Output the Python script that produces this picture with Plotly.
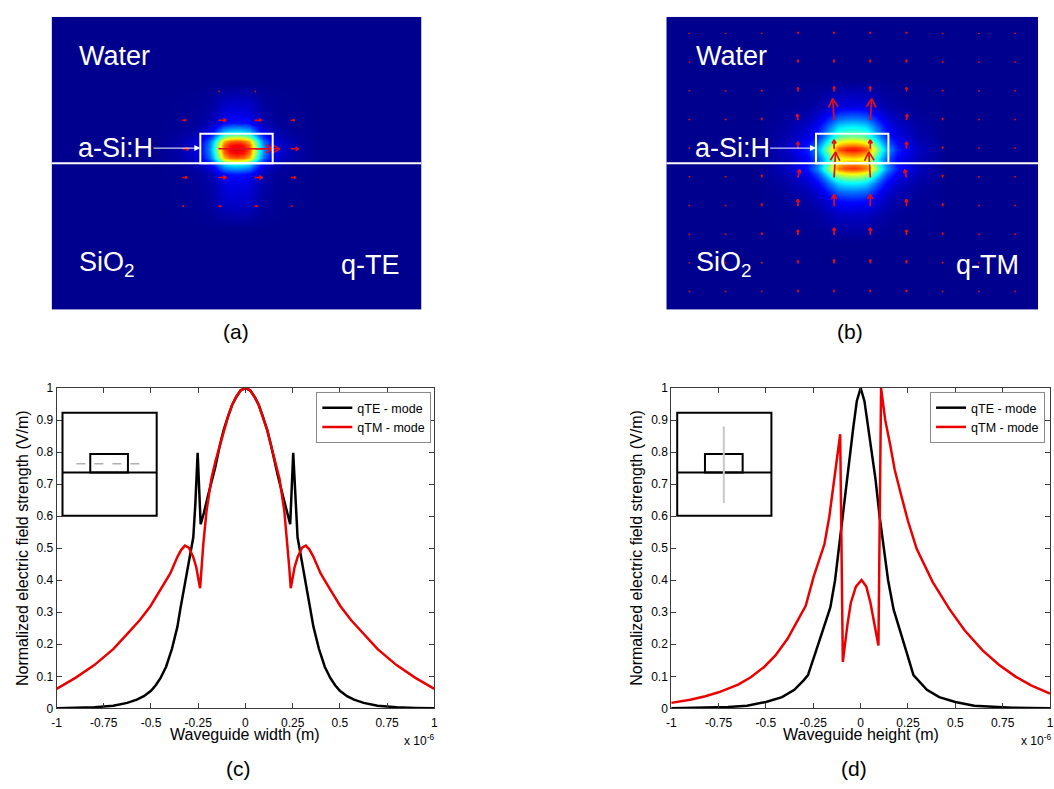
import numpy as np
import plotly.graph_objects as go

W, H = 1054, 789
FONT = "Arial, Liberation Sans, sans-serif"

# ---------------------------------------------------------------- data
# (c) normalized |E| along the waveguide width (x in units of 1e-6 m)
c_te_x = [-1.0, -0.9, -0.8, -0.7, -0.626, -0.575, -0.538, -0.5, -0.475, -0.45, -0.42, -0.389, -0.36,
          -0.345, -0.328, -0.311, -0.293, -0.276, -0.265, -0.253, -0.237, -0.22, -0.2, -0.171, -0.16,
          -0.136, -0.115, -0.092, -0.07, -0.048, -0.025, 0.0, 0.025, 0.048, 0.07, 0.092, 0.115, 0.136,
          0.16, 0.171, 0.2, 0.22, 0.237, 0.253, 0.265, 0.276, 0.293, 0.311, 0.328, 0.345, 0.36, 0.389,
          0.42, 0.45, 0.475, 0.5, 0.538, 0.575, 0.626, 0.7, 0.8, 0.9, 1.0]
c_te_y = [0.0, 0.001, 0.003, 0.008, 0.017, 0.027, 0.038, 0.055, 0.072, 0.094, 0.13, 0.186, 0.255,
          0.309, 0.365, 0.42, 0.478, 0.534, 0.64, 0.798, 0.575, 0.61, 0.66, 0.728, 0.752,
          0.82, 0.87, 0.912, 0.948, 0.973, 0.993, 1.0, 0.993, 0.973, 0.948, 0.912, 0.87, 0.82,
          0.752, 0.728, 0.66, 0.61, 0.575, 0.798, 0.64, 0.534, 0.478, 0.42, 0.365, 0.309, 0.255, 0.186,
          0.13, 0.094, 0.072, 0.055, 0.038, 0.027, 0.017, 0.008, 0.003, 0.001, 0.0]
c_tm_x = [-1.0, -0.9, -0.8, -0.7, -0.634, -0.56, -0.503, -0.45, -0.398, -0.36, -0.34, -0.32, -0.3,
          -0.276, -0.26, -0.248, -0.24, -0.232, -0.223, -0.206, -0.18, -0.158, -0.136, -0.115, -0.092,
          -0.07, -0.048, -0.025, 0.0, 0.025, 0.048, 0.07, 0.092, 0.115, 0.136, 0.158, 0.18, 0.206,
          0.223, 0.232, 0.24, 0.248, 0.26, 0.276, 0.3, 0.32, 0.34, 0.36, 0.398, 0.45, 0.503, 0.56,
          0.634, 0.7, 0.8, 0.9, 1.0]
c_tm_y = [0.061, 0.095, 0.135, 0.185, 0.227, 0.275, 0.319, 0.37, 0.421, 0.473, 0.495, 0.508, 0.502,
          0.472, 0.44, 0.40, 0.375, 0.44, 0.513, 0.616, 0.718, 0.773, 0.82, 0.87, 0.912,
          0.948, 0.973, 0.993, 1.0, 0.993, 0.973, 0.948, 0.912, 0.87, 0.82, 0.773, 0.718, 0.616,
          0.513, 0.44, 0.375, 0.40, 0.44, 0.472, 0.502, 0.508, 0.495, 0.473, 0.421, 0.37, 0.319, 0.275,
          0.227, 0.185, 0.135, 0.095, 0.061]

# (d) normalized |E| along the waveguide height (x in units of 1e-6 m)
d_te_x = [-1.0, -0.9, -0.8, -0.7, -0.6, -0.5, -0.415, -0.35, -0.3, -0.278, -0.235, -0.2, -0.16,
          -0.135, -0.113, -0.09, -0.073, -0.055, -0.04, -0.02, 0.0, 0.02, 0.04, 0.058, 0.078, 0.1,
          0.122, 0.145, 0.174, 0.21, 0.24, 0.279, 0.3, 0.35, 0.415, 0.5, 0.6, 0.7, 0.8, 0.9, 1.0]
d_te_y = [0.0, 0.001, 0.002, 0.004, 0.008, 0.02, 0.035, 0.058, 0.088, 0.104, 0.18, 0.245, 0.315,
          0.40, 0.51, 0.63, 0.718, 0.80, 0.871, 0.96, 1.0, 0.96, 0.871, 0.80, 0.718, 0.60,
          0.51, 0.40, 0.309, 0.235, 0.18, 0.104, 0.09, 0.058, 0.035, 0.02, 0.008, 0.004, 0.002, 0.001, 0.0]
d_tm_x = [-1.0, -0.9, -0.82, -0.75, -0.647, -0.58, -0.508, -0.45, -0.386, -0.34, -0.29, -0.248,
          -0.22, -0.191, -0.165, -0.139, -0.12, -0.108, -0.094, -0.082, -0.07, -0.052, -0.025, 0.005,
          0.03, 0.052, 0.075, 0.094, 0.108, 0.13, 0.157, 0.18, 0.209, 0.25, 0.296, 0.38, 0.47, 0.55,
          0.644, 0.73, 0.818, 0.9, 1.0]
d_tm_y = [0.017, 0.027, 0.038, 0.05, 0.074, 0.097, 0.13, 0.165, 0.217, 0.265, 0.32, 0.411,
          0.46, 0.513, 0.6, 0.718, 0.8, 0.856, 0.145, 0.21, 0.26, 0.329, 0.38, 0.401,
          0.38, 0.329, 0.26, 0.196, 1.0, 0.9, 0.82, 0.745, 0.677, 0.585, 0.498, 0.395, 0.309, 0.243,
          0.181, 0.136, 0.099, 0.072, 0.046]

x_ticks = [-1, -0.75, -0.5, -0.25, 0, 0.25, 0.5, 0.75, 1]
x_tick_text = ["-1", "-0.75", "-0.5", "-0.25", "0", "0.25", "0.5", "0.75", "1"]
y_ticks = [0, 0.1, 0.2, 0.3, 0.4, 0.5, 0.6, 0.7, 0.8, 0.9, 1]
y_tick_text = ["0", "0.1", "0.2", "0.3", "0.4", "0.5", "0.6", "0.7", "0.8", "0.9", "1"]

# mode maps (µm): horizontal and vertical intensity profiles
a_map_x = [-1.3, -0.55, -0.4, -0.3, -0.24, -0.188, -0.157, -0.137, -0.113, -0.09, -0.05, 0.0,
           0.05, 0.09, 0.113, 0.137, 0.157, 0.188, 0.24, 0.3, 0.4, 0.55, 1.3]
a_map_xv = [0, 0, 0.03, 0.07, 0.14, 0.26, 0.375, 0.5, 0.65, 0.79, 0.88, 0.91,
            0.88, 0.79, 0.65, 0.5, 0.375, 0.26, 0.14, 0.07, 0.03, 0, 0]
a_map_y = [-1.05, -0.45, -0.28, -0.14, -0.075, -0.04, -0.007, 0.015, 0.039, 0.07, 0.096, 0.125,
           0.153, 0.18, 0.21, 0.25, 0.28, 0.34, 0.42, 0.55, 1.05]
a_map_yv = [0, 0, 0.07, 0.11, 0.16, 0.29, 0.42, 0.67, 0.87, 0.97, 1.0, 0.97,
            0.87, 0.67, 0.42, 0.29, 0.16, 0.11, 0.07, 0, 0]

b_map_x = [-1.3, -0.65, -0.45, -0.31, -0.24, -0.205, -0.15, -0.097, -0.05, 0.0, 0.05, 0.097,
           0.15, 0.205, 0.24, 0.31, 0.45, 0.65, 1.3]
b_map_xv = [0, 0, 0.07, 0.18, 0.32, 0.44, 0.68, 0.92, 0.98, 1.0, 0.98, 0.92,
            0.68, 0.44, 0.32, 0.18, 0.07, 0, 0]
b_map_y = [-1.05, -0.55, -0.36, -0.26, -0.19, -0.14, -0.1, -0.075, -0.045, -0.03, -0.012,
           0.0, 0.027, 0.05, 0.091, 0.11, 0.13, 0.153, 0.187, 0.255, 0.31, 0.4, 0.58, 1.05]
b_map_yv = [0, 0, 0.06, 0.14, 0.25, 0.375, 0.5, 0.62, 0.78, 0.82, 0.76,
            0.7, 0.64, 0.72, 0.86, 0.84, 0.74, 0.625, 0.5, 0.375, 0.25, 0.09, 0, 0]

# core geometry (µm)
core_w = 0.5
core_h = 0.205

# quiver grid (µm) and arrow components (µm)
q_cols = [-1.125, -0.875, -0.625, -0.375, -0.125, 0.125, 0.375, 0.625, 0.875, 1.125]
q_rows = [0.9, 0.7, 0.5, 0.3, 0.1, -0.1, -0.3, -0.5, -0.7, -0.9]
a_q_u = [
    [0, 0, 0, 0, 0, 0, 0, 0, 0, 0],
    [0, 0, 0, 0, 0, 0, 0, 0, 0, 0],
    [0, 0, 0, 0, 0.007, 0.007, 0, 0, 0, 0],
    [0, 0, 0, 0.027, 0.055, 0.048, 0.027, 0, 0, 0],
    [0, 0, 0, 0.048, 0.425, 0.13, 0.055, 0, 0, 0],
    [0, 0, 0, 0.034, 0.055, 0.055, 0.034, 0, 0, 0],
    [0, 0, 0, 0.01, 0.02, 0.02, 0.01, 0, 0, 0],
    [0, 0, 0, 0, 0, 0, 0, 0, 0, 0],
    [0, 0, 0, 0, 0, 0, 0, 0, 0, 0],
    [0, 0, 0, 0, 0, 0, 0, 0, 0, 0],
]
b_q_u = [
    [0, 0, 0, 0, 0, 0, 0, 0, 0, 0],
    [0, 0, 0, 0, 0, 0, 0, 0, 0, 0],
    [0, 0, 0, 0, 0, 0, 0, 0, 0, 0],
    [0, 0, 0, -0.005, -0.01, 0.01, 0.005, 0, 0, 0],
    [0, 0, 0, 0, 0, 0, 0, 0, 0, 0],
    [0, 0, 0, 0.012, 0.01, -0.01, -0.012, 0, 0, 0],
    [0, 0, 0, 0, 0, 0, 0, 0, 0, 0],
    [0, 0, 0, 0, 0, 0, 0, 0, 0, 0],
    [0, 0, 0, 0, 0, 0, 0, 0, 0, 0],
    [0, 0, 0, 0, 0, 0, 0, 0, 0, 0],
]
b_q_v = [
    [0.007, 0.007, 0.007, 0.014, 0.014, 0.014, 0.014, 0.007, 0.007, 0.007],
    [0.007, 0.007, 0.01, 0.02, 0.02, 0.02, 0.02, 0.01, 0.007, 0.007],
    [0.007, 0.007, 0.01, 0.027, 0.034, 0.034, 0.027, 0.01, 0.007, 0.007],
    [0.007, 0.007, 0.014, 0.041, 0.15, 0.15, 0.041, 0.014, 0.007, 0.007],
    [0.007, 0.007, 0.014, 0.048, 0.062, 0.062, 0.048, 0.014, 0.007, 0.007],
    [0.007, 0.007, 0.017, 0.055, 0.178, 0.178, 0.055, 0.017, 0.007, 0.007],
    [0.007, 0.007, 0.017, 0.048, 0.082, 0.082, 0.048, 0.017, 0.007, 0.007],
    [0.007, 0.007, 0.014, 0.034, 0.048, 0.048, 0.034, 0.014, 0.007, 0.007],
    [0.007, 0.007, 0.01, 0.02, 0.027, 0.027, 0.02, 0.01, 0.007, 0.007],
    [0.007, 0.007, 0.007, 0.014, 0.014, 0.014, 0.014, 0.007, 0.007, 0.007],
]

# ---------------------------------------------------------------- helpers
JET = [[0.0, "rgb(0,0,143)"], [0.125, "rgb(0,0,255)"], [0.375, "rgb(0,255,255)"],
       [0.625, "rgb(255,255,0)"], [0.875, "rgb(255,0,0)"], [1.0, "rgb(128,0,0)"]]


def px(X):
    return X / W


def py(Y):
    return 1 - Y / H


def quiver(cols, rows, U, V, head=0.06):
    xs, ys = [], []
    for i, y0 in enumerate(rows):
        for j, x0 in enumerate(cols):
            u = U[i][j] if U is not None else 0.0
            v = V[i][j] if V is not None else 0.0
            L = float(np.hypot(u, v))
            if L == 0:
                continue
            dx, dy = u / L, v / L
            nx, ny = -dy, dx
            tx, ty = x0 + u, y0 + v
            hl = min(0.4 * L, head)
            hw = 0.55 * hl
            bx, by = tx - hl * dx, ty - hl * dy
            xs += [x0, tx, None, bx + hw * nx, tx, bx - hw * nx, None]
            ys += [y0, ty, None, by + hw * ny, ty, by - hw * ny, None]
    return xs, ys


fig = go.Figure()

# ---------------------------------------------------------------- (a) & (b) maps
za = np.outer(a_map_yv, a_map_xv)
zb = np.outer(b_map_yv, b_map_xv)
fig.add_trace(go.Heatmap(x=a_map_x, y=a_map_y, z=za, colorscale=JET, zmin=0, zmax=1,
                         zsmooth="best", showscale=False, hoverinfo="skip",
                         xaxis="x", yaxis="y", showlegend=False))
fig.add_trace(go.Heatmap(x=b_map_x, y=b_map_y, z=zb, colorscale=JET, zmin=0, zmax=1,
                         zsmooth="best", showscale=False, hoverinfo="skip",
                         xaxis="x2", yaxis="y2", showlegend=False))

ARROW = "rgb(228,12,22)"
qa_x, qa_y = quiver(q_cols, q_rows, a_q_u, None)
fig.add_trace(go.Scatter(x=qa_x, y=qa_y, mode="lines", line=dict(color=ARROW, width=1.5),
                         xaxis="x", yaxis="y", showlegend=False, hoverinfo="skip"))
qb_x, qb_y = quiver(q_cols, q_rows, b_q_u, b_q_v)
fig.add_trace(go.Scatter(x=qb_x, y=qb_y, mode="lines", line=dict(color=ARROW, width=1.7),
                         xaxis="x2", yaxis="y2", showlegend=False, hoverinfo="skip"))

# ---------------------------------------------------------------- (c) & (d) profiles
RED = "rgb(235,0,0)"
fig.add_trace(go.Scatter(x=c_te_x, y=c_te_y, mode="lines", name="qTE - mode",
                         line=dict(color="black", width=2.5), xaxis="x3", yaxis="y3",
                         legend="legend"))
fig.add_trace(go.Scatter(x=c_tm_x, y=c_tm_y, mode="lines", name="qTM - mode",
                         line=dict(color=RED, width=2.5), xaxis="x3", yaxis="y3",
                         legend="legend"))
fig.add_trace(go.Scatter(x=d_te_x, y=d_te_y, mode="lines", name="qTE - mode",
                         line=dict(color="black", width=2.5), xaxis="x4", yaxis="y4",
                         legend="legend2"))
fig.add_trace(go.Scatter(x=d_tm_x, y=d_tm_y, mode="lines", name="qTM - mode",
                         line=dict(color=RED, width=2.5), xaxis="x4", yaxis="y4",
                         legend="legend2"))

# ---------------------------------------------------------------- axes
hide = dict(showgrid=False, zeroline=False, showticklabels=False, ticks="", showline=False)
ha = 373 / 146 / 2
hb = 375 / 146 / 2
vh = 298 / 146 / 2
AX_LINE = "#3a3a3a"


def plot_x(domain, rng):
    return dict(domain=domain, range=rng, tickvals=x_ticks, ticktext=x_tick_text,
                ticks="inside", ticklen=5, tickcolor=AX_LINE, showline=True, linecolor=AX_LINE,
                linewidth=1, mirror="ticks", showgrid=False, zeroline=False,
                ticklabelstandoff=3,
                tickfont=dict(family=FONT, size=12, color="black"))


def plot_y(domain):
    return dict(domain=domain, range=[0, 1], tickvals=y_ticks, ticktext=y_tick_text,
                ticks="inside", ticklen=5, tickcolor=AX_LINE, showline=True, linecolor=AX_LINE,
                linewidth=1, mirror="ticks", showgrid=False, zeroline=False,
                tickfont=dict(family=FONT, size=12, color="black"))


fig.update_layout(
    xaxis=dict(domain=[px(47), px(420)], range=[-ha, ha], anchor="y", **hide),
    yaxis=dict(domain=[py(308), py(10)], range=[-vh, vh], anchor="x", **hide),
    xaxis2=dict(domain=[px(667), px(1042)], range=[-hb, hb], anchor="y2", **hide),
    yaxis2=dict(domain=[py(308), py(10)], range=[-vh, vh], anchor="x2", **hide),
    xaxis3=dict(anchor="y3", **plot_x([px(52), px(433)], [-1, 1])),
    yaxis3=dict(anchor="x3", **plot_y([py(714), py(388)])),
    xaxis4=dict(anchor="y4", **plot_x([px(672), 1.0], [-1, 1.0])),
    yaxis4=dict(anchor="x4", **plot_y([py(714), py(388)])),
)

# ---------------------------------------------------------------- shapes
shapes = []
for xr, yr, half in (("x", "y", ha), ("x2", "y2", hb)):
    shapes.append(dict(type="line", xref=xr, yref=yr, x0=-half, x1=half, y0=0, y1=0,
                       line=dict(color="white", width=2)))
    shapes.append(dict(type="rect", xref=xr, yref=yr, x0=-core_w / 2, x1=core_w / 2,
                       y0=0, y1=core_h, line=dict(color="white", width=2)))

# insets (schematic cross-sections with cut line)
for ox, cut in ((58, "h"), (678, "v")):
    shapes.append(dict(type="rect", xref="paper", yref="paper", x0=px(ox), x1=px(ox + 95),
                       y0=py(518), y1=py(413), fillcolor="white",
                       line=dict(color="black", width=2), layer="above"))
    shapes.append(dict(type="line", xref="paper", yref="paper", x0=px(ox), x1=px(ox + 95),
                       y0=py(474), y1=py(474), line=dict(color="black", width=2)))
    shapes.append(dict(type="rect", xref="paper", yref="paper", x0=px(ox + 28), x1=px(ox + 66),
                       y0=py(474), y1=py(455), line=dict(color="black", width=2)))
    if cut == "h":
        shapes.append(dict(type="line", xref="paper", yref="paper", x0=px(ox + 14),
                           x1=px(ox + 85), y0=py(465), y1=py(465),
                           line=dict(color="#b0b0b0", width=1.5, dash="dash")))
    else:
        shapes.append(dict(type="line", xref="paper", yref="paper", x0=px(ox + 47),
                           x1=px(ox + 47), y0=py(505), y1=py(427),
                           line=dict(color="#c8c8c8", width=2)))

# ---------------------------------------------------------------- annotations
ann = []
MAPF = dict(family=FONT, size=27, color="white")
for xr, yr, left, lab_c, right, mode in (("x", "y", -1.10, -0.836, 1.14, "q-TE"),
                                         ("x2", "y2", -1.092, -0.829, 1.168, "q-TM")):
    ann.append(dict(xref=xr, yref=yr, x=left, y=0.747, text="Water", showarrow=False,
                    xanchor="left", yanchor="middle", font=MAPF))
    ann.append(dict(xref=xr, yref=yr, axref=xr, ayref=yr, x=-core_w / 2, y=0.105,
                    ax=lab_c, ay=0.105, text="a-Si:H", showarrow=True, arrowhead=2,
                    arrowsize=1.2, arrowwidth=1, arrowcolor="white", standoff=0,
                    borderpad=0, font=MAPF))
    ann.append(dict(xref=xr, yref=yr, x=left, y=-0.70, text="SiO<sub>2</sub>", showarrow=False,
                    xanchor="left", yanchor="middle", font=MAPF))
    ann.append(dict(xref=xr, yref=yr, x=right, y=-0.712, text=mode, showarrow=False,
                    xanchor="right", yanchor="middle", font=MAPF))

LBL = dict(family=FONT, size=21, color="black")
for X, Y, t in ((233, 330, "(a)"), (852, 330, "(b)"), (236, 775, "(c)"), (856, 775, "(d)")):
    ann.append(dict(xref="paper", yref="paper", x=px(X), y=py(Y), text=t, showarrow=False,
                    xanchor="center", yanchor="middle", font=LBL))

TIT = dict(family=FONT, size=16, color="black")
ann.append(dict(xref="paper", yref="paper", x=px(242), y=py(741), text="Waveguide width (m)",
                showarrow=False, xanchor="center", yanchor="middle", font=TIT))
ann.append(dict(xref="paper", yref="paper", x=px(863), y=py(741), text="Waveguide height (m)",
                showarrow=False, xanchor="center", yanchor="middle", font=TIT))
for X in (17, 637):
    ann.append(dict(xref="paper", yref="paper", x=px(X), y=py(551),
                    text="Normalized electric field strength (V/m)", textangle=-90,
                    showarrow=False, xanchor="center", yanchor="middle", font=TIT))
for X in (400, 1023):
    ann.append(dict(xref="paper", yref="paper", x=px(X), y=py(746), text="x 10<sup>-6</sup>",
                    showarrow=False, xanchor="left", yanchor="middle",
                    font=dict(family=FONT, size=12, color="black")))

LEG = dict(bgcolor="white", bordercolor="#8a8a8a", borderwidth=1, xanchor="right",
           yanchor="top", font=dict(family=FONT, size=12.5, color="black"), tracegroupgap=0,
           itemwidth=30)

fig.update_layout(
    width=W, height=H, margin=dict(l=0, r=0, t=0, b=0),
    paper_bgcolor="white", plot_bgcolor="white",
    shapes=shapes, annotations=ann, showlegend=True,
    legend=dict(x=px(430), y=py(392), **LEG),
    legend2=dict(x=px(1049), y=py(392), **LEG),
    font=dict(family=FONT),
)

fig.write_html("out.html", config={"displayModeBar": False},
               post_script="document.body.style.margin='0';document.body.style.overflow='hidden';")
